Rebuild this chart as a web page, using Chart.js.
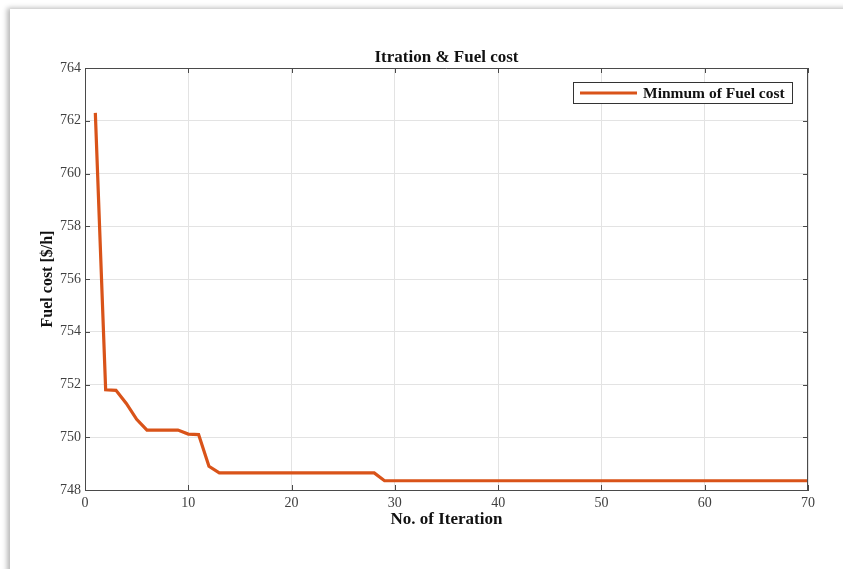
<!DOCTYPE html>
<html>
<head>
<meta charset="utf-8">
<script src="https://cdn.jsdelivr.net/npm/chart.js@4.4.1/dist/chart.umd.min.js"></script>
<style>
    html, body { margin: 0; padding: 0; background: #fff; }
    body { width: 843px; height: 569px; position: relative; overflow: hidden; }
    .frame {
        position: absolute; left: 10px; top: 9px; width: 860px; height: 600px;
        background: #fff; box-shadow: -3px -1px 5px rgba(0,0,0,0.28);
    }
    #chart { position: absolute; left: 0; top: 0; }
</style>
</head>
<body>
<div class="frame"></div>
<canvas id="chart" width="843" height="569"></canvas>
<script>
// Données
const iterations = [
    1, 2, 3, 4, 5, 6, 7, 8, 9, 10,
    11, 12, 13, 14, 15, 16, 17, 18, 19, 20,
    21, 22, 23, 24, 25, 26, 27, 28, 29, 30,
    31, 32, 33, 34, 35, 36, 37, 38, 39, 40,
    41, 42, 43, 44, 45, 46, 47, 48, 49, 50,
    51, 52, 53, 54, 55, 56, 57, 58, 59, 60,
    61, 62, 63, 64, 65, 66, 67, 68, 69, 70
];
const fuelCost = [
    762.3, 751.8, 751.78, 751.28, 750.68, 750.27, 750.27, 750.27, 750.27, 750.12,
    750.1, 748.9, 748.65, 748.65, 748.65, 748.65, 748.65, 748.65, 748.65, 748.65,
    748.65, 748.65, 748.65, 748.65, 748.65, 748.65, 748.65, 748.65, 748.35, 748.35,
    748.35, 748.35, 748.35, 748.35, 748.35, 748.35, 748.35, 748.35, 748.35, 748.35,
    748.35, 748.35, 748.35, 748.35, 748.35, 748.35, 748.35, 748.35, 748.35, 748.35,
    748.35, 748.35, 748.35, 748.35, 748.35, 748.35, 748.35, 748.35, 748.35, 748.35,
    748.35, 748.35, 748.35, 748.35, 748.35, 748.35, 748.35, 748.35, 748.35, 748.35
];
const xTicks = [0, 10, 20, 30, 40, 50, 60, 70];
const yTicks = [748, 750, 752, 754, 756, 758, 760, 762, 764];

const SERIF = '"Liberation Serif", "Times New Roman", serif';
const LINE_COLOR = '#D95319';
const BOX_COLOR = '#4a4a4a';

/**
 * Cadre MATLAB : bords haut/droite, graduations vers l'intérieur, titre et légende
 */
const matlabBox = {
    id: 'matlabBox',
    afterDraw(chart) {
        const { ctx, chartArea: a, scales: { x, y } } = chart;
        ctx.save();
        ctx.strokeStyle = BOX_COLOR;
        ctx.lineWidth = 1;
        ctx.beginPath();
        ctx.moveTo(a.left, a.top + 0.5); ctx.lineTo(a.right, a.top + 0.5);
        ctx.moveTo(a.right - 0.5, a.top); ctx.lineTo(a.right - 0.5, a.bottom);
        ctx.stroke();

        const tl = 5;
        ctx.beginPath();
        xTicks.forEach(v => {
            const px = Math.round(x.getPixelForValue(v)) + 0.5;
            ctx.moveTo(px, a.bottom); ctx.lineTo(px, a.bottom - tl);
            ctx.moveTo(px, a.top); ctx.lineTo(px, a.top + tl);
        });
        yTicks.forEach(v => {
            const py = Math.round(y.getPixelForValue(v)) + 0.5;
            ctx.moveTo(a.left, py); ctx.lineTo(a.left + tl, py);
            ctx.moveTo(a.right, py); ctx.lineTo(a.right - tl, py);
        });
        ctx.stroke();

        // Titre
        ctx.fillStyle = '#111';
        ctx.font = 'bold 17px ' + SERIF;
        ctx.textAlign = 'center';
        ctx.textBaseline = 'middle';
        ctx.fillText('Itration & Fuel cost', (a.left + a.right) / 2, 58);

        // Légende
        const ds = chart.data.datasets[0];
        const lx = 573, ly = 82, lw = 219, lh = 21;
        ctx.fillStyle = '#fff';
        ctx.fillRect(lx, ly, lw, lh);
        ctx.strokeStyle = '#333';
        ctx.lineWidth = 1;
        ctx.strokeRect(lx + 0.5, ly + 0.5, lw, lh);
        ctx.strokeStyle = ds.borderColor;
        ctx.lineWidth = 3;
        ctx.beginPath();
        ctx.moveTo(580, ly + lh / 2 + 0.5);
        ctx.lineTo(637, ly + lh / 2 + 0.5);
        ctx.stroke();
        ctx.fillStyle = '#111';
        ctx.font = 'bold 15.5px ' + SERIF;
        ctx.textAlign = 'left';
        ctx.fillText(ds.label, 643, ly + lh / 2 + 1);
        ctx.restore();
    }
};

new Chart(document.getElementById('chart'), {
    type: 'line',
    data: {
        datasets: [{
            label: 'Minmum of Fuel cost',
            data: iterations.map((it, i) => ({ x: it, y: fuelCost[i] })),
            borderColor: LINE_COLOR,
            backgroundColor: LINE_COLOR,
            borderWidth: 3.2,
            pointRadius: 0,
            tension: 0,
            fill: false
        }]
    },
    options: {
        responsive: false,
        animation: false,
        layout: { padding: { top: 68, right: 35, left: 0, bottom: 0 } },
        plugins: {
            legend: { display: false },
            tooltip: { enabled: false }
        },
        scales: {
            x: {
                type: 'linear',
                min: 0, max: 70,
                afterBuildTicks: s => { s.ticks = xTicks.map(v => ({ value: v })); },
                afterFit: s => { s.height = 79; },
                grid: { color: '#e3e3e3', drawTicks: false },
                border: { display: true, color: BOX_COLOR },
                ticks: { padding: 5, color: '#404040', font: { family: SERIF, size: 14 } },
                title: {
                    display: true,
                    text: 'No. of Iteration',
                    color: '#111',
                    font: { family: SERIF, size: 17, weight: 'bold' },
                    padding: { top: 0, bottom: 39 }
                }
            },
            y: {
                min: 748, max: 764,
                afterBuildTicks: s => { s.ticks = yTicks.map(v => ({ value: v })); },
                afterFit: s => { s.width = 85; },
                grid: { color: '#e3e3e3', drawTicks: false },
                border: { display: true, color: BOX_COLOR },
                ticks: { padding: 4, color: '#404040', font: { family: SERIF, size: 14 } },
                title: {
                    display: true,
                    text: 'Fuel cost [$/h]',
                    color: '#111',
                    font: { family: SERIF, size: 16, weight: 'bold' },
                    padding: { top: 38, bottom: 0 }
                }
            }
        }
    },
    plugins: [matlabBox]
});
</script>
</body>
</html>
